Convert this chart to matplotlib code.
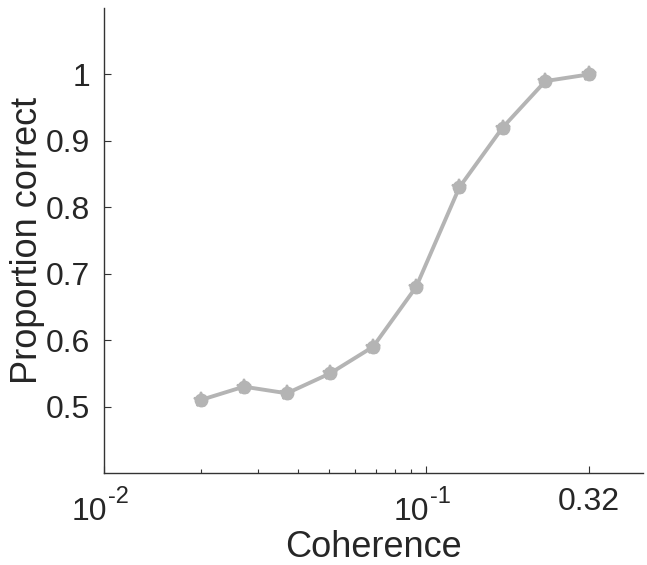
import matplotlib.pyplot as plt
import matplotlib.ticker as mticker

plt.rcParams['font.family'] = ['Liberation Sans', 'DejaVu Sans']

# datos
coherence = [0.02, 0.0272, 0.037, 0.0504, 0.0685, 0.0932, 0.127, 0.173, 0.235, 0.32]
prop_correct = [0.51, 0.53, 0.52, 0.55, 0.59, 0.68, 0.83, 0.92, 0.99, 1.0]
xtick_vals = [0.01, 0.1, 0.32]
xtick_labels = ['', '', '0.32']
# etiquetas tipo 10^n (base, exponente)
pot_vals = [0.01, 0.1]
pot_exps = ['-2', '-1']
ytick_vals = [0.5, 0.6, 0.7, 0.8, 0.9, 1.0]
ytick_labels = ['0.5', '0.6', '0.7', '0.8', '0.9', '1']

fig = plt.figure(figsize=(6.47, 5.65), dpi=100)
ax = fig.add_axes([0.1607, 0.1628, 0.833, 0.823])

gris = '#b4b4b4'
ax.plot(coherence, prop_correct, '-', color=gris, linewidth=2.8)
ax.plot(coherence, prop_correct, 'o', color=gris, markersize=9)
ax.plot(coherence, prop_correct, '*', color=gris, markersize=11, markeredgewidth=1.5)

ax.set_xscale('log')
ax.set_xlim(0.01, 0.472)
ax.set_ylim(0.4, 1.1)
ax.set_xticks(xtick_vals)
ax.set_xticklabels(xtick_labels)
ax.xaxis.set_minor_locator(mticker.FixedLocator([0.02, 0.03, 0.04, 0.05, 0.06, 0.07, 0.08, 0.09]))
ax.xaxis.set_minor_formatter(mticker.NullFormatter())
ax.set_yticks(ytick_vals)
ax.set_yticklabels(ytick_labels)

# potencias de 10 con el exponente arriba, como en matlab
for v, e in zip(pot_vals, pot_exps):
    ax.annotate('10', xy=(v, 0), xycoords=('data', 'axes fraction'), xytext=(2.5, -33.8),
                textcoords='offset points', ha='right', va='baseline', fontsize=23, color='#262626')
    ax.annotate(e, xy=(v, 0), xycoords=('data', 'axes fraction'), xytext=(3, -21.6),
                textcoords='offset points', ha='left', va='baseline', fontsize=17, color='#262626')

for s in ['top', 'right']:
    ax.spines[s].set_visible(False)
for s in ['left', 'bottom']:
    ax.spines[s].set_color('#333333')
    ax.spines[s].set_linewidth(1.0)

ax.tick_params(which='major', direction='in', length=5, width=0.8, colors='#333333',
               labelsize=23, labelcolor='#262626', pad=10)
ax.tick_params(which='minor', direction='in', length=3, width=0.8, colors='#333333')

ax.set_xlabel('Coherence', fontsize=26, color='#262626')
ax.set_ylabel('Proportion correct', fontsize=26, color='#262626')
ax.xaxis.set_label_coords(0.5, -0.122)
ax.yaxis.set_label_coords(-0.11, 0.5)

fig.savefig('out.png', dpi=100)
